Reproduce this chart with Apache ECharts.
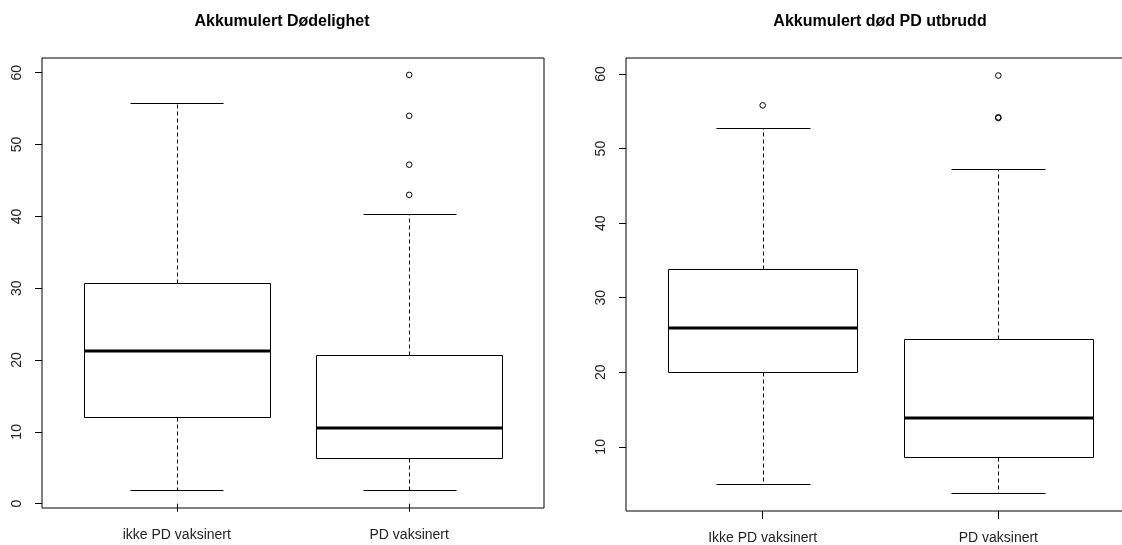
<!DOCTYPE html>
<html>
<head>
<meta charset="utf-8">
<script src="https://cdn.jsdelivr.net/npm/echarts@6/dist/echarts.min.js"></script>
<style>
  html, body { margin: 0; padding: 0; background: #fff; }
  #chart { width: 1122px; height: 545px; }
</style>
</head>
<body>
<div id="chart"></div>
<script>
// Panel titles
const titleLeft = 'Akkumulert Dødelighet';
const titleRight = 'Akkumulert død PD utbrudd';

// Group names under each panel
const categoriesLeft = ['ikke PD vaksinert', 'PD vaksinert'];
const categoriesRight = ['Ikke PD vaksinert', 'PD vaksinert'];

// Five-number summaries per group: [lower whisker, Q1, median, Q3, upper whisker]
const statsLeft = [
  [1.9, 12.1, 21.3, 30.7, 55.8],
  [1.9, 6.4, 10.6, 20.7, 40.4]
];
const statsRight = [
  [5.0, 20.1, 26.0, 33.9, 52.7],
  [3.8, 8.7, 13.9, 24.4, 47.2]
];

// Outlying observations per group
const outliersLeft = [
  [],
  [59.7, 54.0, 47.2, 43.0]
];
const outliersRight = [
  [55.8],
  [59.8, 54.1, 54.2]
];

// Y tick labels
const yTicks = [0, 10, 20, 30, 40, 50, 60];
const yTicksRight = [10, 20, 30, 40, 50, 60];

const FONT = '"Liberation Sans", Arial, sans-serif';
const BOX_HALF = 0.4;   // box width 0.8 on the group axis
const CAP_HALF = 0.2;   // whisker staple half width

function crisp(v) { return Math.round(v) + 0.5; }

function renderBox(params, api) {
  const x = api.value(0);
  const lo = api.value(1), q1 = api.value(2), med = api.value(3), q3 = api.value(4), hi = api.value(5);
  const pL = api.coord([x - BOX_HALF, q3]);
  const pR = api.coord([x + BOX_HALF, q1]);
  const pC = api.coord([x, med]);
  const pHi = api.coord([x, hi]);
  const pLo = api.coord([x, lo]);
  const cL = api.coord([x - CAP_HALF, hi])[0];
  const cR = api.coord([x + CAP_HALF, hi])[0];
  const xl = crisp(pL[0]), xr = crisp(pR[0]);
  const yt = crisp(pL[1]), yb = crisp(pR[1]);
  const xc = crisp(pC[0]);
  const yHi = crisp(pHi[1]), yLo = crisp(pLo[1]);
  const line = { stroke: '#000', lineWidth: 1 };
  const dash = { stroke: '#000', lineWidth: 1, lineDash: [4, 3] };
  return {
    type: 'group',
    children: [
      { type: 'line', shape: { x1: xc, y1: yt, x2: xc, y2: yHi }, style: dash },
      { type: 'line', shape: { x1: xc, y1: yb, x2: xc, y2: yLo }, style: dash },
      { type: 'line', shape: { x1: crisp(cL), y1: yHi, x2: crisp(cR), y2: yHi }, style: line },
      { type: 'line', shape: { x1: crisp(cL), y1: yLo, x2: crisp(cR), y2: yLo }, style: line },
      { type: 'rect', shape: { x: xl, y: yt, width: xr - xl, height: yb - yt }, style: { fill: '#fff', stroke: '#000', lineWidth: 1 } },
      { type: 'line', shape: { x1: xl, y1: Math.round(pC[1]), x2: xr, y2: Math.round(pC[1]) }, style: { stroke: '#000', lineWidth: 3 } }
    ]
  };
}

// Open circle for a single outlying value
function renderOutlier(params, api) {
  const p = api.coord([api.value(0), api.value(1)]);
  return {
    type: 'circle',
    shape: { cx: p[0], cy: p[1], r: 2.8 },
    style: { fill: 'transparent', stroke: '#000', lineWidth: 1 }
  };
}

function boxData(stats) {
  return stats.map((s, i) => [i + 1].concat(s));
}
function outlierData(out) {
  const res = [];
  out.forEach((arr, i) => arr.forEach(v => res.push([i + 1, v])));
  return res;
}

function xAxisFor(gridIndex, cats, margin) {
  return {
    type: 'value', gridIndex: gridIndex, min: 0.42, max: 2.58,
    splitLine: { show: false },
    axisLine: { show: false },
    axisTick: { show: true, customValues: [1, 2], length: 8, lineStyle: { color: '#000' } },
    axisLabel: {
      customValues: [1, 2], margin: margin,
      formatter: v => cats[Math.round(v) - 1],
      fontFamily: FONT, fontSize: 14, color: '#222'
    }
  };
}
function yAxisFor(gridIndex, min, max, ticks) {
  return {
    type: 'value', gridIndex: gridIndex, min: min, max: max,
    splitLine: { show: false },
    axisLine: { show: false },
    axisTick: { show: true, customValues: ticks, length: 7, lineStyle: { color: '#000' } },
    axisLabel: {
      customValues: ticks, rotate: 90, margin: 18,
      fontFamily: FONT, fontSize: 14, color: '#222'
    }
  };
}

const chart = echarts.init(document.getElementById('chart'), null, { renderer: 'canvas' });
chart.setOption({
  backgroundColor: '#fff',
  animation: false,
  title: [
    { text: titleLeft, left: 277, top: 9, textAlign: 'center',
      textStyle: { fontFamily: FONT, fontSize: 16, fontWeight: 'bold', color: '#000' } },
    { text: titleRight, left: 875, top: 9, textAlign: 'center',
      textStyle: { fontFamily: FONT, fontSize: 16, fontWeight: 'bold', color: '#000' } }
  ],
  grid: [
    { left: 42, top: 58, width: 502, height: 450, outerBoundsMode: 'none',
      show: true, borderColor: '#000', borderWidth: 1, backgroundColor: 'transparent' },
    { left: 626, top: 58, width: 509, height: 453, outerBoundsMode: 'none',
      show: true, borderColor: '#000', borderWidth: 1, backgroundColor: 'transparent' }
  ],
  xAxis: [xAxisFor(0, categoriesLeft, 20), xAxisFor(1, categoriesRight, 20)],
  yAxis: [yAxisFor(0, -0.6, 62.05, yTicks), yAxisFor(1, 1.4, 62.15, yTicksRight)],
  series: [
    { type: 'custom', xAxisIndex: 0, yAxisIndex: 0, renderItem: renderBox, data: boxData(statsLeft), z: 2 },
    { type: 'custom', xAxisIndex: 1, yAxisIndex: 1, renderItem: renderBox, data: boxData(statsRight), z: 2 },
    { type: 'custom', xAxisIndex: 0, yAxisIndex: 0, renderItem: renderOutlier, data: outlierData(outliersLeft), z: 3 },
    { type: 'custom', xAxisIndex: 1, yAxisIndex: 1, renderItem: renderOutlier, data: outlierData(outliersRight), z: 3 }
  ]
});
</script>
</body>
</html>
